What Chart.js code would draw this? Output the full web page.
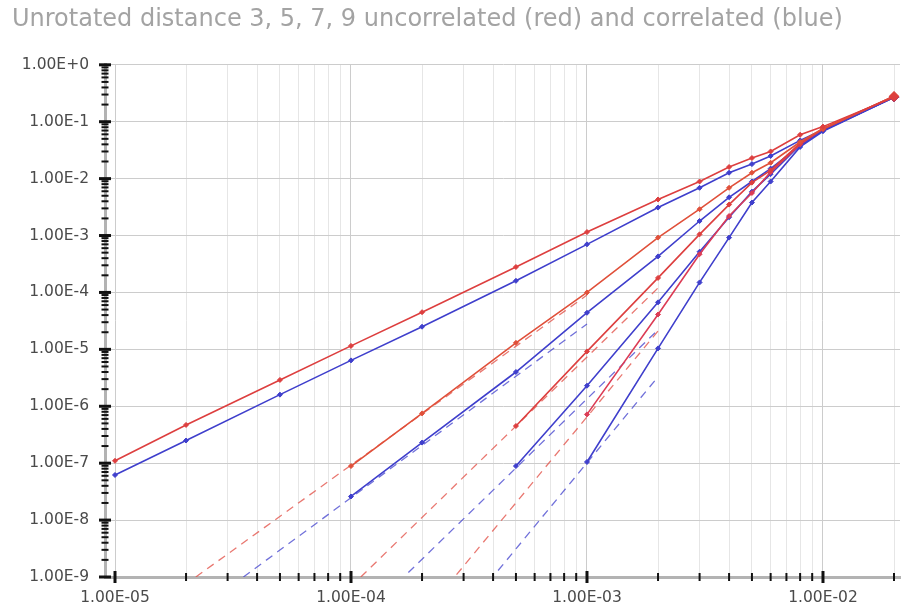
<!DOCTYPE html>
<html>
<head>
<meta charset="utf-8">
<script src="https://cdn.jsdelivr.net/npm/chart.js@4.4.0/dist/chart.umd.min.js"></script>
<style>
  html, body { margin: 0; padding: 0; background: #fff; }
  #wrap { width: 909px; height: 614px; }
</style>
</head>
<body>
<div id="wrap"><canvas id="chart_distance"></canvas></div>
<script>
// physical error rate (x) where the curves were sampled
var errorRates = [1e-5, 2e-5, 5e-5, 1e-4, 2e-4, 5e-4, 1e-3, 2e-3, 3e-3, 4e-3, 5e-3, 6e-3, 8e-3, 1e-2, 2e-2];

// logical error rates, uncorrelated (red)
var red3 = [1.1e-7, 4.7e-7, 2.9e-6, 1.15e-5, 4.5e-5, 2.8e-4, 1.15e-3, 4.3e-3, 8.9e-3, 1.6e-2, 2.3e-2, 3.0e-2, 5.9e-2, 8.2e-2, 0.27];
var red5 = [null, null, null, 8.9e-8, 7.5e-7, 1.3e-5, 1.0e-4, 9.2e-4, 2.9e-3, 6.9e-3, 1.27e-2, 1.9e-2, 4.4e-2, 7.6e-2, 0.28];
var red7 = [null, null, null, null, null, 4.5e-7, 9.2e-6, 1.8e-4, 1.05e-3, 3.5e-3, 8.5e-3, 1.4e-2, 4.2e-2, 7.4e-2, 0.28];
var red9 = [null, null, null, null, null, null, 7.2e-7, 4.1e-5, 4.7e-4, 2.2e-3, 5.6e-3, 1.3e-2, 4.0e-2, 7.5e-2, 0.28];

// logical error rates, correlated (blue)
var blue3 = [6.2e-8, 2.5e-7, 1.6e-6, 6.4e-6, 2.5e-5, 1.6e-4, 7.0e-4, 3.1e-3, 6.9e-3, 1.27e-2, 1.8e-2, 2.5e-2, 4.7e-2, 7.2e-2, 0.27];
var blue5 = [null, null, null, 2.6e-8, 2.3e-7, 4.0e-6, 4.4e-5, 4.3e-4, 1.8e-3, 4.7e-3, 8.9e-3, 1.5e-2, 3.8e-2, 7.0e-2, 0.27];
var blue7 = [null, null, null, null, null, 8.9e-8, 2.3e-6, 6.7e-5, 5.2e-4, 2.1e-3, 5.9e-3, 1.2e-2, 3.9e-2, 7.0e-2, 0.27];
var blue9 = [null, null, null, null, null, null, 1.05e-7, 1.04e-5, 1.5e-4, 9.2e-4, 3.8e-3, 8.9e-3, 3.6e-2, 6.8e-2, 0.27];

// dashed fit lines (end points)
var red5FitX = [2.2e-5, 1e-3],   red5FitY = [1e-9, 9e-5];
var blue5FitX = [3.5e-5, 1e-3],  blue5FitY = [1e-9, 2.8e-5];
var red7FitX = [1.1e-4, 2e-3],   red7FitY = [1e-9, 1.2e-4];
var blue7FitX = [1.75e-4, 2e-3], blue7FitY = [1.2e-9, 2.2e-5];
var red9FitX = [2.8e-4, 2e-3],   red9FitY = [1.1e-9, 2.1e-5];
var blue9FitX = [4.2e-4, 2e-3],  blue9FitY = [1.3e-9, 3.3e-6];

// axis ticks
var xMajorTicks = [1e-5, 1e-4, 1e-3, 1e-2];
var xTickLabels = ['1.00E-05', '1.00E-04', '1.00E-03', '1.00E-02'];
var yMajorTicks = [1, 1e-1, 1e-2, 1e-3, 1e-4, 1e-5, 1e-6, 1e-7, 1e-8, 1e-9];
var yTickLabels = ['1.00E+0', '1.00E-1', '1.00E-2', '1.00E-3', '1.00E-4', '1.00E-5', '1.00E-6', '1.00E-7', '1.00E-8', '1.00E-9'];

var RED = '#dd3f3f';
var BLUE = '#3f3fcc';

function pairs(xs, ys) {
    var out = [];
    for (var i = 0; i < xs.length; i++) {
        if (ys[i] !== null) out.push({x: xs[i], y: ys[i]});
    }
    return out;
}

function decadeTicks(majors, lo, hi) {
    var out = [];
    majors.forEach(function(m) {
        [1, 2, 3, 4, 5, 6, 7, 8, 9].forEach(function(k) {
            var v = +(m * k).toPrecision(3);
            if (v >= lo && v <= hi) out.push({value: v, major: k === 1});
        });
    });
    out.sort(function(a, b) { return a.value - b.value; });
    return out;
}

function solid(label, ys, color) {
    return {
        label: label,
        data: pairs(errorRates, ys),
        borderColor: color,
        backgroundColor: color,
        borderWidth: 1.6,
        pointStyle: 'rectRot',
        pointRadius: function(ctx) { return ctx.dataIndex === ctx.dataset.data.length - 1 ? 4.5 : 2.5; },
        pointBorderWidth: 1,
        tension: 0
    };
}

function dashed(label, xs, ys, color) {
    return {
        label: label,
        data: pairs(xs, ys),
        borderColor: color,
        borderWidth: 1.3,
        borderDash: [8, 6],
        pointRadius: 0,
        tension: 0
    };
}

var X_MIN = 9.07e-6, X_MAX = 0.0212;

var tickMarks = {
    id: 'tickMarks',
    afterDraw: function(chart) {
        var ctx = chart.ctx, xs = chart.scales.x, ys = chart.scales.y;
        ctx.save();
        ctx.strokeStyle = '#111';
        xs.ticks.forEach(function(t) {
            var px = xs.getPixelForValue(t.value);
            var h = t.major ? 6 : 4;
            ctx.lineWidth = t.major ? 3 : 2;
            ctx.beginPath();
            ctx.moveTo(px, xs.top - h);
            ctx.lineTo(px, xs.top + h);
            ctx.stroke();
        });
        ys.ticks.forEach(function(t) {
            var py = ys.getPixelForValue(t.value);
            var w = t.major ? 6 : 3.5;
            ctx.lineWidth = t.major ? 3 : 2;
            ctx.beginPath();
            ctx.moveTo(ys.right - w, py);
            ctx.lineTo(ys.right + w, py);
            ctx.stroke();
        });
        ctx.restore();
    }
};

var chart_distance = new Chart(document.getElementById('chart_distance'), {
    type: 'line',
    data: {
        datasets: [
            solid('d=3 uncorrelated', red3, RED),
            solid('d=5 uncorrelated', red5, '#e0503a'),
            solid('d=7 uncorrelated', red7, RED),
            solid('d=9 uncorrelated', red9, '#dc3c55'),
            dashed('d=5 uncorrelated fit', red5FitX, red5FitY, 'rgba(225,75,65,0.75)'),
            dashed('d=7 uncorrelated fit', red7FitX, red7FitY, 'rgba(225,75,65,0.75)'),
            dashed('d=9 uncorrelated fit', red9FitX, red9FitY, 'rgba(225,75,65,0.75)'),
            solid('d=3 correlated', blue3, BLUE),
            solid('d=5 correlated', blue5, BLUE),
            solid('d=7 correlated', blue7, BLUE),
            solid('d=9 correlated', blue9, BLUE),
            dashed('d=5 correlated fit', blue5FitX, blue5FitY, 'rgba(65,65,205,0.75)'),
            dashed('d=7 correlated fit', blue7FitX, blue7FitY, 'rgba(65,65,205,0.75)'),
            dashed('d=9 correlated fit', blue9FitX, blue9FitY, 'rgba(65,65,205,0.75)')
        ]
    },
    options: {
        animation: false,
        responsive: true,
        maintainAspectRatio: false,
        layout: {
            padding: { left: 12, right: 9, top: 0, bottom: 0 }
        },
        plugins: {
            legend: { display: false },
            tooltip: { enabled: false },
            title: {
                display: true,
                text: 'Unrotated distance 3, 5, 7, 9 uncorrelated (red) and correlated (blue)',
                align: 'start',
                color: '#a3a3a3',
                font: { family: 'DejaVu Sans', size: 24, weight: 'normal' },
                padding: { top: 5, bottom: 31 }
            }
        },
        scales: {
            x: {
                type: 'logarithmic',
                min: X_MIN,
                max: X_MAX,
                afterBuildTicks: function(scale) {
                    scale.ticks = decadeTicks(xMajorTicks, X_MIN, X_MAX).concat([{value: 2e-2, major: false}]);
                },
                afterFit: function(scale) { scale.height = 37; },
                grid: {
                    drawTicks: false,
                    color: function(ctx) { return ctx.tick && ctx.tick.major ? '#cccccc' : '#e6e6e6'; },
                    lineWidth: 1
                },
                border: { color: '#b3b3b3', width: 3 },
                ticks: {
                    autoSkip: false,
                    maxRotation: 0,
                    padding: 12,
                    color: '#4a4a4a',
                    font: { family: 'DejaVu Sans', size: 15.5 },
                    callback: function(value) {
                        var i = xMajorTicks.indexOf(+(+value).toPrecision(3));
                        return i >= 0 ? xTickLabels[i] : '';
                    }
                }
            },
            y: {
                type: 'logarithmic',
                min: 1e-9,
                max: 1,
                afterBuildTicks: function(scale) {
                    scale.ticks = decadeTicks(yMajorTicks, 1e-9, 1);
                },
                afterFit: function(scale) { scale.width = 93; },
                grid: {
                    drawTicks: false,
                    color: function(ctx) { return ctx.tick && ctx.tick.major ? '#cccccc' : 'rgba(0,0,0,0)'; },
                    lineWidth: 1
                },
                border: { color: '#b3b3b3', width: 3 },
                ticks: {
                    autoSkip: false,
                    padding: 16,
                    color: '#4a4a4a',
                    font: { family: 'DejaVu Sans', size: 15.5 },
                    callback: function(value) {
                        var i = yMajorTicks.indexOf(+(+value).toPrecision(3));
                        return i >= 0 ? yTickLabels[i] : '';
                    }
                }
            }
        }
    },
    plugins: [tickMarks]
});
</script>
</body>
</html>
